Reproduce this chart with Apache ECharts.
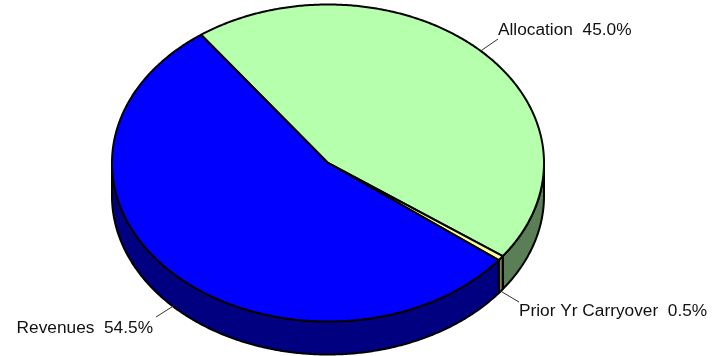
<!DOCTYPE html>
<html>
<head>
<meta charset="utf-8">
<style>html,body{margin:0;padding:0;background:#fff}#c{width:721px;height:356px}</style>
<script src="https://cdn.jsdelivr.net/npm/echarts@6/dist/echarts.min.js"></script>
</head>
<body>
<div id="c"></div>
<script>
const categories = ['Allocation', 'Prior Yr Carryover', 'Revenues'];
const shares = [45.0, 0.5, 54.5];
const topColors = ['#B5FFAD', '#FFFF99', '#0000FF'];
const sideColors = ['#5A7F56', '#7F7F4C', '#000080'];
const labelAnchors = [[498, 39, 'left', 30], [519, 302, 'left', 311], [156, 317, 'right', 328]];

const CX = 328, CY = 163, RX = 216, RY = 158.5, DEPTH = 33, START = -36, STROKE = 2;
const total = shares.reduce((a, b) => a + b, 0);
const starts = [];
shares.reduce((acc, v, i) => { starts[i] = acc; return acc + v; }, 0);
const deg = v => v / total * 360;
const pt = (a, dy) => {
  const r = a * Math.PI / 180;
  return [CX + RX * Math.sin(r), CY - RY * Math.cos(r) + (dy || 0)];
};
const arc = (a0, a1, dy) => {
  const n = Math.max(2, Math.ceil(Math.abs(a1 - a0) * 2));
  const out = [];
  for (let i = 0; i <= n; i++) out.push(pt(a0 + (a1 - a0) * i / n, dy));
  return out;
};

function renderSide(params, api) {
  const i = params.dataIndex;
  const a0 = START + deg(starts[i]);
  const a1 = a0 + deg(api.value(0));
  const from = Math.max(a0, 90), to = Math.min(a1, 270);
  if (to <= from) return { type: 'group', children: [] };
  return {
    type: 'polygon', silent: true,
    shape: { points: arc(from, to, 0).concat(arc(to, from, DEPTH)) },
    style: { fill: sideColors[i], stroke: '#000', lineWidth: STROKE, lineJoin: 'round' }
  };
}
function renderTop(params, api) {
  const i = params.dataIndex;
  const a0 = START + deg(starts[i]);
  const a1 = a0 + deg(api.value(0));
  return {
    type: 'polygon', silent: true,
    shape: { points: [[CX, CY]].concat(arc(a0, a1, 0)) },
    style: { fill: topColors[i], stroke: '#000', lineWidth: STROKE, lineJoin: 'round' }
  };
}
function renderLabel(params, api) {
  const i = params.dataIndex;
  const v = api.value(0);
  const mid = START + deg(starts[i]) + deg(v) / 2;
  const norm = ((mid % 360) + 360) % 360;
  const from = pt(mid, norm > 90 && norm < 270 ? DEPTH : 0);
  const [ex, ey, align, ty] = labelAnchors[i];
  const tx = align === 'right' ? ex - 3 : ex;
  return {
    type: 'group', silent: true,
    children: [
      { type: 'line', shape: { x1: from[0], y1: from[1], x2: ex, y2: ey },
        style: { stroke: '#333', lineWidth: 1 } },
      { type: 'text', x: tx, y: ty,
        style: { text: categories[i] + '  ' + v.toFixed(1) + '%', fill: '#111',
          font: '17.3px "Liberation Sans", Arial, sans-serif',
          align: align, verticalAlign: 'middle' } }
    ]
  };
}
const data = shares.map(v => [v]);
const chart = echarts.init(document.getElementById('c'), null, { renderer: 'canvas' });
chart.setOption({
  animation: false,
  backgroundColor: '#fff',
  series: [
    { type: 'custom', coordinateSystem: 'none', renderItem: renderSide, data: data, z: 1 },
    { type: 'custom', coordinateSystem: 'none', renderItem: renderTop, data: data, z: 2 },
    { type: 'custom', coordinateSystem: 'none', renderItem: renderLabel, data: data, z: 3 }
  ]
});
</script>
</body>
</html>
